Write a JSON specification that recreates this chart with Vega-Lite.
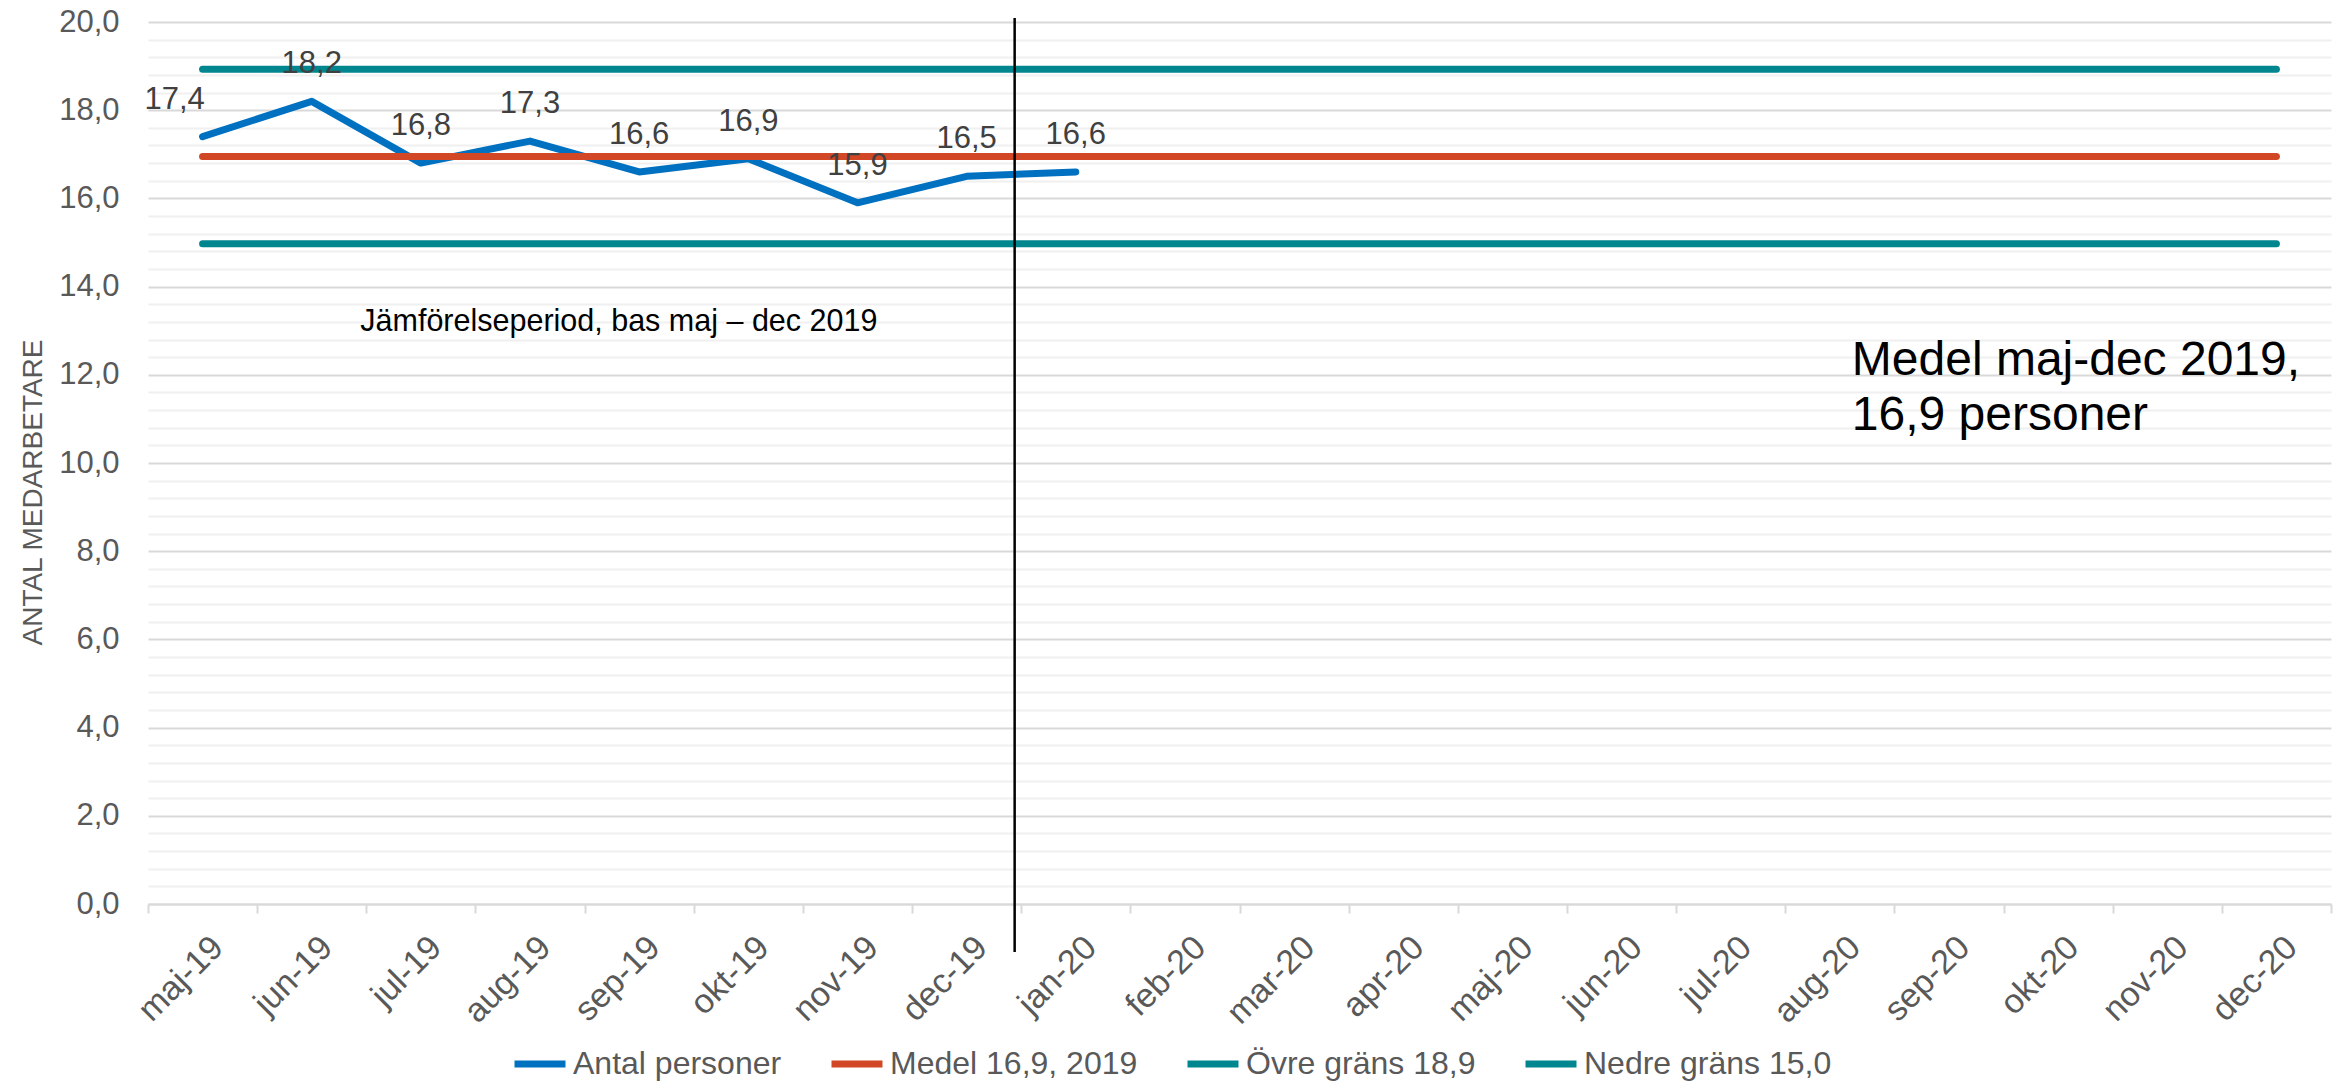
{
  "$schema": "https://vega.github.io/schema/vega-lite/v6.json",
  "width": 2183,
  "height": 882,
  "autosize": {"type": "none"},
  "padding": {"left": 148, "top": 22, "right": 13, "bottom": 177},
  "background": "white",
  "config": {
    "font": "Liberation Sans",
    "view": {"stroke": null},
    "legend": {"symbolStrokeWidth": 7}
  },
  "datasets": {
    "main": [
      {"month": "maj-19", "series": "Antal personer", "value": 17.4, "label": "17,4"},
      {"month": "jun-19", "series": "Antal personer", "value": 18.2, "label": "18,2"},
      {"month": "jul-19", "series": "Antal personer", "value": 16.8, "label": "16,8"},
      {"month": "aug-19", "series": "Antal personer", "value": 17.3, "label": "17,3"},
      {"month": "sep-19", "series": "Antal personer", "value": 16.6, "label": "16,6"},
      {"month": "okt-19", "series": "Antal personer", "value": 16.9, "label": "16,9"},
      {"month": "nov-19", "series": "Antal personer", "value": 15.9, "label": "15,9"},
      {"month": "dec-19", "series": "Antal personer", "value": 16.5, "label": "16,5"},
      {"month": "jan-20", "series": "Antal personer", "value": 16.6, "label": "16,6"},
      {"month": "maj-19", "series": "Medel 16,9, 2019", "value": 16.95},
      {"month": "jun-19", "series": "Medel 16,9, 2019", "value": 16.95},
      {"month": "jul-19", "series": "Medel 16,9, 2019", "value": 16.95},
      {"month": "aug-19", "series": "Medel 16,9, 2019", "value": 16.95},
      {"month": "sep-19", "series": "Medel 16,9, 2019", "value": 16.95},
      {"month": "okt-19", "series": "Medel 16,9, 2019", "value": 16.95},
      {"month": "nov-19", "series": "Medel 16,9, 2019", "value": 16.95},
      {"month": "dec-19", "series": "Medel 16,9, 2019", "value": 16.95},
      {"month": "jan-20", "series": "Medel 16,9, 2019", "value": 16.95},
      {"month": "feb-20", "series": "Medel 16,9, 2019", "value": 16.95},
      {"month": "mar-20", "series": "Medel 16,9, 2019", "value": 16.95},
      {"month": "apr-20", "series": "Medel 16,9, 2019", "value": 16.95},
      {"month": "maj-20", "series": "Medel 16,9, 2019", "value": 16.95},
      {"month": "jun-20", "series": "Medel 16,9, 2019", "value": 16.95},
      {"month": "jul-20", "series": "Medel 16,9, 2019", "value": 16.95},
      {"month": "aug-20", "series": "Medel 16,9, 2019", "value": 16.95},
      {"month": "sep-20", "series": "Medel 16,9, 2019", "value": 16.95},
      {"month": "okt-20", "series": "Medel 16,9, 2019", "value": 16.95},
      {"month": "nov-20", "series": "Medel 16,9, 2019", "value": 16.95},
      {"month": "dec-20", "series": "Medel 16,9, 2019", "value": 16.95},
      {"month": "maj-19", "series": "Övre gräns 18,9", "value": 18.93},
      {"month": "jun-19", "series": "Övre gräns 18,9", "value": 18.93},
      {"month": "jul-19", "series": "Övre gräns 18,9", "value": 18.93},
      {"month": "aug-19", "series": "Övre gräns 18,9", "value": 18.93},
      {"month": "sep-19", "series": "Övre gräns 18,9", "value": 18.93},
      {"month": "okt-19", "series": "Övre gräns 18,9", "value": 18.93},
      {"month": "nov-19", "series": "Övre gräns 18,9", "value": 18.93},
      {"month": "dec-19", "series": "Övre gräns 18,9", "value": 18.93},
      {"month": "jan-20", "series": "Övre gräns 18,9", "value": 18.93},
      {"month": "feb-20", "series": "Övre gräns 18,9", "value": 18.93},
      {"month": "mar-20", "series": "Övre gräns 18,9", "value": 18.93},
      {"month": "apr-20", "series": "Övre gräns 18,9", "value": 18.93},
      {"month": "maj-20", "series": "Övre gräns 18,9", "value": 18.93},
      {"month": "jun-20", "series": "Övre gräns 18,9", "value": 18.93},
      {"month": "jul-20", "series": "Övre gräns 18,9", "value": 18.93},
      {"month": "aug-20", "series": "Övre gräns 18,9", "value": 18.93},
      {"month": "sep-20", "series": "Övre gräns 18,9", "value": 18.93},
      {"month": "okt-20", "series": "Övre gräns 18,9", "value": 18.93},
      {"month": "nov-20", "series": "Övre gräns 18,9", "value": 18.93},
      {"month": "dec-20", "series": "Övre gräns 18,9", "value": 18.93},
      {"month": "maj-19", "series": "Nedre gräns 15,0", "value": 14.97},
      {"month": "jun-19", "series": "Nedre gräns 15,0", "value": 14.97},
      {"month": "jul-19", "series": "Nedre gräns 15,0", "value": 14.97},
      {"month": "aug-19", "series": "Nedre gräns 15,0", "value": 14.97},
      {"month": "sep-19", "series": "Nedre gräns 15,0", "value": 14.97},
      {"month": "okt-19", "series": "Nedre gräns 15,0", "value": 14.97},
      {"month": "nov-19", "series": "Nedre gräns 15,0", "value": 14.97},
      {"month": "dec-19", "series": "Nedre gräns 15,0", "value": 14.97},
      {"month": "jan-20", "series": "Nedre gräns 15,0", "value": 14.97},
      {"month": "feb-20", "series": "Nedre gräns 15,0", "value": 14.97},
      {"month": "mar-20", "series": "Nedre gräns 15,0", "value": 14.97},
      {"month": "apr-20", "series": "Nedre gräns 15,0", "value": 14.97},
      {"month": "maj-20", "series": "Nedre gräns 15,0", "value": 14.97},
      {"month": "jun-20", "series": "Nedre gräns 15,0", "value": 14.97},
      {"month": "jul-20", "series": "Nedre gräns 15,0", "value": 14.97},
      {"month": "aug-20", "series": "Nedre gräns 15,0", "value": 14.97},
      {"month": "sep-20", "series": "Nedre gräns 15,0", "value": 14.97},
      {"month": "okt-20", "series": "Nedre gräns 15,0", "value": 14.97},
      {"month": "nov-20", "series": "Nedre gräns 15,0", "value": 14.97},
      {"month": "dec-20", "series": "Nedre gräns 15,0", "value": 14.97}
    ]
  },
  "encoding": {
    "x": {
      "field": "month",
      "type": "nominal",
      "sort": null,
      "scale": {
        "domain": ["maj-19", "jun-19", "jul-19", "aug-19", "sep-19", "okt-19", "nov-19", "dec-19", "jan-20", "feb-20", "mar-20", "apr-20", "maj-20", "jun-20", "jul-20", "aug-20", "sep-20", "okt-20", "nov-20", "dec-20"],
        "type": "band",
        "paddingInner": 0,
        "paddingOuter": 0
      },
      "axis": {
        "title": null,
        "domainColor": "#D9D9D9",
        "domainWidth": 2,
        "ticks": true,
        "tickBand": "extent",
        "tickColor": "#D9D9D9",
        "tickWidth": 2,
        "tickSize": 9,
        "labelAngle": -45,
        "labelFontSize": 34,
        "labelColor": "#595959",
        "labelPadding": 17,
        "labelOffset": 3,
        "grid": false
      }
    },
    "y": {
      "field": "value",
      "type": "quantitative",
      "scale": {"domain": [0, 20], "nice": false, "zero": false},
      "axis": {
        "title": "ANTAL MEDARBETARE",
        "titleFontSize": 28,
        "titleFontWeight": "normal",
        "titleColor": "#595959",
        "titleX": -115,
        "titleY": 470,
        "titleAngle": 270,
        "titleAlign": "center",
        "titleBaseline": "middle",
        "values": [0, 0.4, 0.8, 1.2, 1.6, 2, 2.4, 2.8, 3.2, 3.6, 4, 4.4, 4.8, 5.2, 5.6, 6, 6.4, 6.8, 7.2, 7.6, 8, 8.4, 8.8, 9.2, 9.6, 10, 10.4, 10.8, 11.2, 11.6, 12, 12.4, 12.8, 13.2, 13.6, 14, 14.4, 14.8, 15.2, 15.6, 16, 16.4, 16.8, 17.2, 17.6, 18, 18.4, 18.8, 19.2, 19.6, 20],
        "labelExpr": "datum.value % 2 === 0 ? replace(format(datum.value, '.1f'), '.', ',') : ''",
        "labelFontSize": 31,
        "labelColor": "#595959",
        "labelPadding": 29,
        "ticks": false,
        "tickSize": 0,
        "domain": false,
        "grid": true,
        "gridColor": {"condition": {"test": "datum.value % 2 === 0", "value": "#D9D9D9"}, "value": "#F0F0F0"},
        "gridWidth": 2
      }
    }
  },
  "layer": [
    {
      "data": {"name": "main"},
      "mark": {"type": "line", "strokeWidth": 7, "strokeCap": "round", "strokeJoin": "round"},
      "encoding": {
        "color": {
          "field": "series",
          "type": "nominal",
          "scale": {
            "domain": ["Antal personer", "Medel 16,9, 2019", "Övre gräns 18,9", "Nedre gräns 15,0"],
            "range": ["#0070C0", "#D24726", "#00868E", "#00868E"]
          },
          "legend": {
            "title": null,
            "orient": "none",
            "legendX": 363,
            "legendY": 1013,
            "direction": "horizontal",
            "symbolType": "stroke",
            "symbolSize": 2600,
            "symbolStrokeWidth": 7,
            "labelFontSize": 32,
            "labelColor": "#595959",
            "labelOffset": 4,
            "labelLimit": 600,
            "columnPadding": 35
          }
        }
      }
    },
    {
      "data": {"name": "main"},
      "transform": [{"filter": "datum.series === 'Antal personer' && datum.month !== 'maj-19'"}],
      "mark": {"type": "text", "fontSize": 31, "color": "#404040", "baseline": "middle", "dy": -37},
      "encoding": {"text": {"field": "label"}}
    },
    {
      "data": {"name": "main"},
      "transform": [{"filter": "datum.series === 'Antal personer' && datum.month === 'maj-19'"}],
      "mark": {"type": "text", "fontSize": 31, "color": "#404040", "baseline": "middle", "dy": -37, "dx": -28},
      "encoding": {"text": {"field": "label"}}
    },
    {
      "data": {"values": [{"month": "dec-19", "top": 20.09, "bottom": -1.09}]},
      "mark": {"type": "rule", "color": "#000000", "strokeWidth": 2.5},
      "encoding": {
        "x": {"field": "month", "type": "nominal", "bandPosition": 0.94},
        "y": {"field": "top", "type": "quantitative"},
        "y2": {"field": "bottom"}
      }
    },
    {
      "data": {"values": [{"month": "jul-19", "pos": 13, "note": "Jämförelseperiod, bas maj – dec 2019"}]},
      "mark": {"type": "text", "fontSize": 30.5, "color": "#000000", "align": "left", "baseline": "alphabetic", "dx": -6},
      "encoding": {
        "x": {"field": "month", "type": "nominal", "bandPosition": 0},
        "y": {"field": "pos", "type": "quantitative"},
        "text": {"field": "note"}
      }
    },
    {
      "data": {"values": [{"month": "aug-20", "pos": 12, "note": ["Medel maj-dec 2019,", "16,9 personer"]}]},
      "mark": {"type": "text", "fontSize": 48, "color": "#000000", "align": "left", "baseline": "alphabetic", "lineHeight": 55},
      "encoding": {
        "x": {"field": "month", "type": "nominal", "bandPosition": 0.61},
        "y": {"field": "pos", "type": "quantitative"},
        "text": {"field": "note"}
      }
    }
  ]
}
